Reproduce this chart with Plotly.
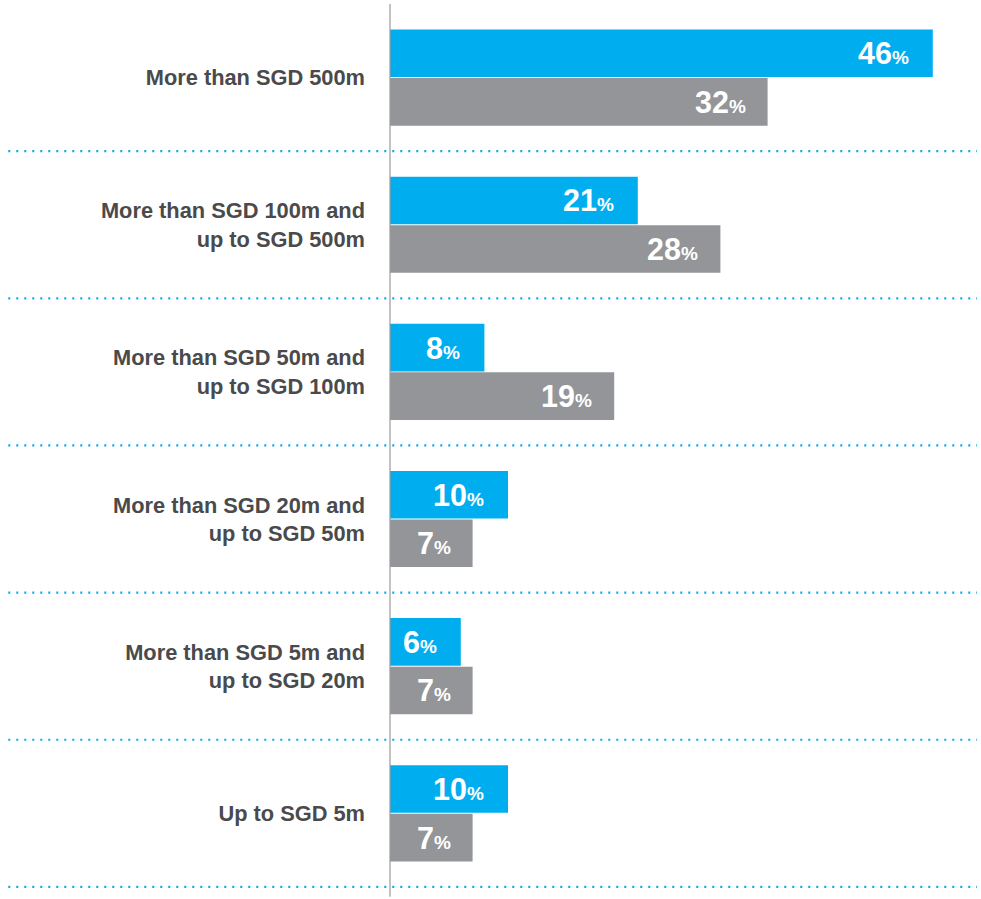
import plotly.graph_objects as go

categories = [
    "More than SGD 500m",
    "More than SGD 100m and<br>up to SGD 500m",
    "More than SGD 50m and<br>up to SGD 100m",
    "More than SGD 20m and<br>up to SGD 50m",
    "More than SGD 5m and<br>up to SGD 20m",
    "Up to SGD 5m",
]
blue_values = [46, 21, 8, 10, 6, 10]
gray_values = [32, 28, 19, 7, 7, 7]

BLUE = "#00aeef"
GRAY = "#939598"
LABEL = "#4a4a4c"
FONT = "Liberation Sans, Arial, sans-serif"

fig = go.Figure()
fig.add_trace(go.Bar(y=categories, x=blue_values, orientation="h",
                     marker=dict(color=BLUE, line=dict(width=0)), hoverinfo="skip"))
fig.add_trace(go.Bar(y=categories, x=gray_values, orientation="h",
                     marker=dict(color=GRAY, line=dict(width=0)), hoverinfo="skip"))

bargap = 0.34
half = (1 - bargap) / 4

annotations = []
for i, (b, g) in enumerate(zip(blue_values, gray_values)):
    for val, off, shift in ((b, -half, -22), (g, half, -20)):
        annotations.append(dict(
            x=val, y=i + off, xref="x", yref="y",
            text=f"<b>{val}</b><b><span style='font-size:19px'>%</span></b>",
            showarrow=False, xanchor="right", yanchor="middle", xshift=shift,
            font=dict(family=FONT, size=30.5, color="white"),
        ))

shapes = []
for i in range(len(categories)):
    shapes.append(dict(type="line", xref="paper", yref="y",
                       x0=-0.647, x1=0.995, y0=i + 0.5, y1=i + 0.5,
                       line=dict(color=BLUE, width=2.2, dash="2px,6px")))
shapes.append(dict(type="line", xref="paper", yref="paper",
                   x0=0, x1=0, y0=-0.01, y1=1.0,
                   line=dict(color="#9a9a9a", width=1.2)))

fig.update_layout(
    width=981, height=899,
    margin=dict(l=390, r=1, t=4, b=11),
    paper_bgcolor="white", plot_bgcolor="white",
    barmode="group", bargap=bargap, bargroupgap=0.02,
    showlegend=False,
    annotations=annotations,
    shapes=shapes,
    xaxis=dict(range=[0, 50], visible=False, fixedrange=True),
    yaxis=dict(autorange="reversed", showgrid=False, zeroline=False, showline=False,
               ticks="", ticklabelstandoff=24,
               tickfont=dict(family=FONT, size=21.8, color=LABEL, weight="bold")),
)

fig.write_html("out.html")
